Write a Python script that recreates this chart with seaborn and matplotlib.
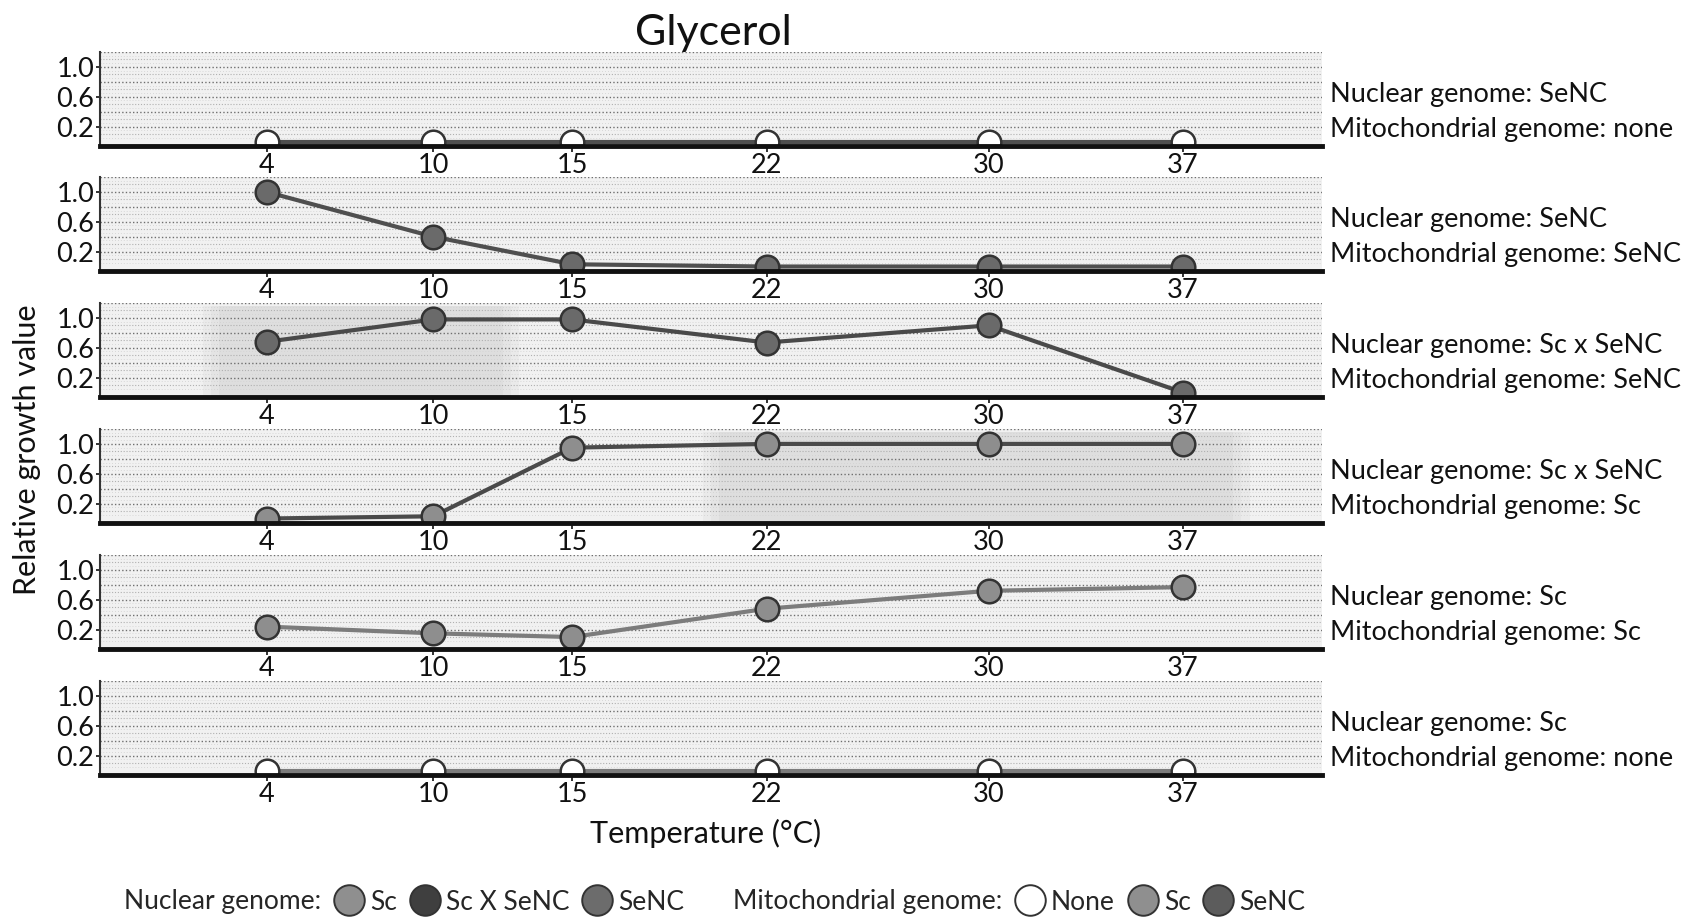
import matplotlib
matplotlib.use("Agg")
import matplotlib.pyplot as plt
from matplotlib.lines import Line2D
import numpy as np
import pandas as pd
import seaborn as sns

# ---- data -------------------------------------------------------------
temperatures = [4, 10, 15, 22, 30, 37]

growth_senc_none = [0.0, 0.0, 0.0, 0.0, 0.0, 0.0]
growth_senc_senc = [1.0, 0.4, 0.03, 0.0, 0.0, 0.0]
growth_hybrid_senc = [0.68, 0.98, 0.98, 0.67, 0.9, 0.0]
growth_hybrid_sc = [0.0, 0.03, 0.95, 1.0, 1.0, 1.0]
growth_sc_sc = [0.24, 0.15, 0.1, 0.48, 0.72, 0.77]
growth_sc_none = [0.0, 0.0, 0.0, 0.0, 0.0, 0.0]

panel_growth = [growth_senc_none, growth_senc_senc, growth_hybrid_senc,
                growth_hybrid_sc, growth_sc_sc, growth_sc_none]
nuclear_genomes = ["SeNC", "SeNC", "Sc x SeNC", "Sc x SeNC", "Sc", "Sc"]
mito_genomes = ["none", "SeNC", "SeNC", "Sc", "Sc", "none"]

y_ticks = [0.2, 0.6, 1.0]
y_tick_labels = ["0.2", "0.6", "1.0"]

# ---- styling ----------------------------------------------------------
sns.set_theme(style="white")
plt.rcParams["font.family"] = ["Lato", "DejaVu Sans"]

nuclear_line_colors = {"Sc": "#7c7c7c", "Sc x SeNC": "#4a4a4a", "SeNC": "#4f4f4f"}
mito_fill_colors = {"none": "#ffffff", "Sc": "#8e8e8e", "SeNC": "#6a6a6a"}
legend_nuclear_colors = {"Sc": "#8f8f8f", "Sc X SeNC": "#3f3f3f", "SeNC": "#6c6c6c"}
legend_mito_colors = {"None": "#ffffff", "Sc": "#8f8f8f", "SeNC": "#5c5c5c"}

# soft grey patches behind some panels (panel index -> x ranges)
shade_ranges = {2: [(2.3, 12.5)], 3: [(20.3, 38.8)]}

W, H = 1682, 919
fig = plt.figure(figsize=(W / 100, H / 100), dpi=100)
fig.patch.set_facecolor("white")

left_px, right_px = 100, 1322
panel_height_px = 94
panel_bottoms_px = [146, 271, 397, 523, 649, 775]

axes = []
for i, bottom_px in enumerate(panel_bottoms_px):
    ax = fig.add_axes([left_px / W, 1 - bottom_px / H,
                       (right_px - left_px) / W, panel_height_px / H])
    axes.append(ax)
    ax.set_facecolor("#f1f1f1")
    ax.set_xlim(-2, 42)
    ax.set_ylim(-0.06, 1.2)

    # stippled horizontal bands
    for lvl in np.arange(0.1, 1.21, 0.1):
        major = int(round(lvl * 10)) % 2 == 0
        ax.axhline(lvl, color="#6f6f6f" if major else "#b0b0b0",
                   lw=1.0 if major else 0.8, ls=(0, (1, 1.6)), zorder=0.5)
    for lvl in np.arange(0.05, 1.21, 0.1):
        ax.axhline(lvl, color="#d0d0d0", lw=0.6, ls=(0, (1, 2.5)), zorder=0.4)

    for (a, b) in shade_ranges.get(i, []):
        for k in range(3):
            ax.axvspan(a - 0.3 * k, b + 0.3 * k, ymin=0, ymax=0.97,
                       color="#a8a8a8", alpha=0.09, lw=0, zorder=0.3)

    df = pd.DataFrame({"Temperature": temperatures, "Growth": panel_growth[i]})
    sns.lineplot(data=df, x="Temperature", y="Growth", ax=ax,
                 color=nuclear_line_colors[nuclear_genomes[i]], lw=3.0,
                 marker="o", markersize=17,
                 markerfacecolor=mito_fill_colors[mito_genomes[i]],
                 markeredgecolor="#333333", markeredgewidth=1.8, zorder=3)

    ax.set_xticks(temperatures)
    ax.set_xticklabels([str(t) for t in temperatures])
    ax.set_yticks(y_ticks)
    ax.set_yticklabels(y_tick_labels)
    ax.set_xlabel("")
    ax.set_ylabel("")
    ax.tick_params(axis="both", labelsize=19.5, colors="#111111")
    ax.tick_params(axis="x", length=4, width=1.2, pad=1, direction="out",
                   bottom=True)
    ax.tick_params(axis="y", length=3, width=1.2, pad=1, direction="out",
                   left=True)
    for s in ("top", "right"):
        ax.spines[s].set_visible(False)
    ax.spines["bottom"].set_color("#111111")
    ax.spines["bottom"].set_linewidth(3.5)
    ax.spines["bottom"].set_zorder(4)
    ax.spines["left"].set_color("#333333")
    ax.spines["left"].set_linewidth(1.5)

    ax.text(1.0065, 0.55, f"Nuclear genome: {nuclear_genomes[i]}",
            transform=ax.transAxes, ha="left", va="center", fontsize=19.5,
            color="#111111")
    ax.text(1.0065, 0.18, f"Mitochondrial genome: {mito_genomes[i]}",
            transform=ax.transAxes, ha="left", va="center", fontsize=19.5,
            color="#111111")

fig.text(713 / W, 1 - 33 / H, "Glycerol", ha="center", va="center",
         fontsize=31, color="#111111")
fig.text(27 / W, 1 - 450 / H, "Relative growth value", rotation=90,
         ha="center", va="center", fontsize=22, color="#111111")
fig.text(706 / W, 1 - 833 / H, "Temperature (°C)", ha="center", va="center",
         fontsize=22, color="#111111")

# ---- key --------------------------------------------------------------
def key_dot(fc):
    return Line2D([], [], ls="none", marker="o", markersize=22,
                  markerfacecolor=fc, markeredgecolor="#333333",
                  markeredgewidth=1.4)

blank = Line2D([], [], ls="none")
handles = [blank] + [key_dot(c) for c in legend_nuclear_colors.values()] \
    + [blank] + [key_dot(c) for c in legend_mito_colors.values()]
labels = ["Nuclear genome:"] + list(legend_nuclear_colors.keys()) \
    + ["Mitochondrial genome:"] + list(legend_mito_colors.keys())
fig.legend(handles, labels, loc="center", bbox_to_anchor=(697 / W, 1 - 902 / H),
           ncol=8, frameon=False, fontsize=19, handlelength=1.1,
           handletextpad=0.25, columnspacing=0.5, borderpad=0)

fig.savefig("out.png", dpi=100, facecolor="white")
